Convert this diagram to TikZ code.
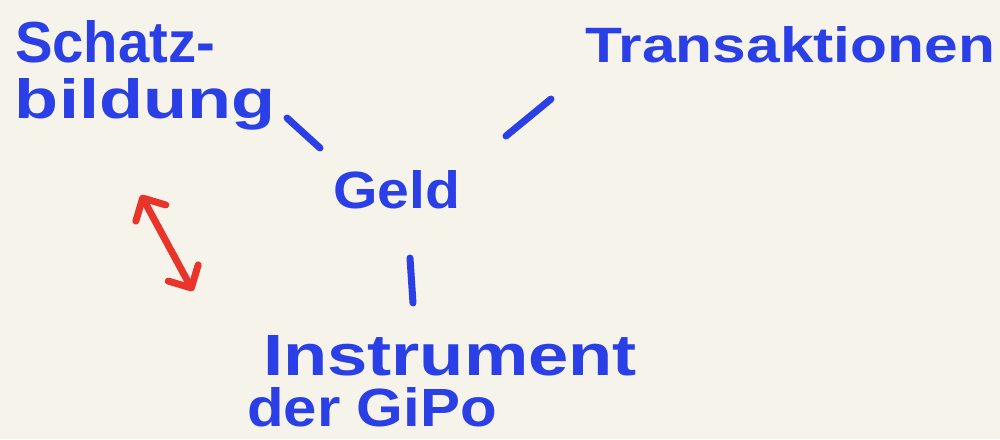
\documentclass[tikz,border=0pt]{standalone}
\usepackage{fontspec}
\usepackage{graphicx}
\setmainfont{Liberation Sans}
\usetikzlibrary{arrows.meta}
\definecolor{paper}{HTML}{F6F4EA}
\definecolor{ink}{HTML}{2A3FE6}
\definecolor{redink}{HTML}{E8342A}
\tikzset{
  hand/.style={inner sep=0pt, outer sep=0pt, anchor=base west, text=ink, font=\bfseries},
  stroke/.style={draw=ink, line width=7pt, line cap=round},
  redarrow/.style={draw=redink, line width=7pt, line cap=round, line join=round,
    {Straight Barb[length=17pt,width=34pt,line width=7pt,round]}-{Straight Barb[length=17pt,width=34pt,line width=7pt,round]}}
}
\begin{document}
\begin{tikzpicture}[x=1pt,y=1pt]
\useasboundingbox[fill=paper] (0,0) rectangle (1000,-439);
% labels
\node[hand] (schatzA) at (15,-62) {\resizebox{200pt}{42pt}{Schatz-}};
\node[hand] (schatzB) at (15,-118) {\resizebox{260pt}{40pt}{bildung}};
\node[hand] (trans) at (585,-62) {\resizebox{410pt}{36pt}{Transaktionen}};
\node[hand] (geld) at (333,-208) {\resizebox{127pt}{38pt}{Geld}};
\node[hand] (instrA) at (263,-375) {\resizebox{374pt}{40pt}{Instrument}};
\node[hand] (instrB) at (247,-426) {\resizebox{250pt}{39pt}{der GiPo}};
% connector end points
\coordinate (s1) at (287,-118);
\coordinate (s2) at (320,-148);
\coordinate (t1) at (506,-136);
\coordinate (t2) at (551,-99);
\coordinate (i1) at (410,-258);
\coordinate (i2) at (413,-303);
\coordinate (r1) at (141,-195);
\coordinate (r2) at (193,-291);
% connectors
\draw[stroke] (s1) -- (s2);
\draw[stroke] (t1) -- (t2);
\draw[stroke] (i1) -- (i2);
\draw[redarrow] (r1) -- (r2);
\end{tikzpicture}
\end{document}
